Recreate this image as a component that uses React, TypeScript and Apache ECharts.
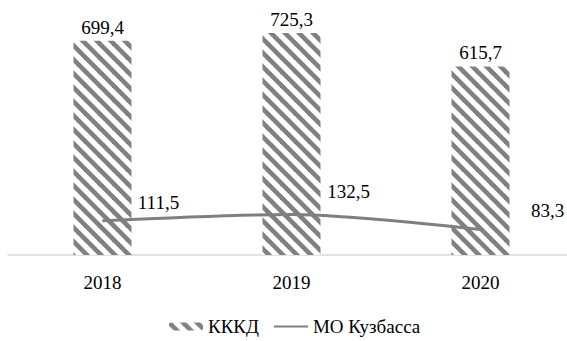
import React, { useEffect, useRef } from "react";
import * as echarts from "echarts";

const categories = ["2018", "2019", "2020"];
const kkkdValues = [699.4, 725.3, 615.7];
const moValues = [111.5, 132.5, 83.3];
const seriesNames = ["КККД", "МО Кузбасса"];

const FONT = "Liberation Serif";

function makeStripe(): any {
  const p = 14;
  const c = document.createElement("canvas");
  c.width = p;
  c.height = p;
  const ctx = c.getContext("2d")!;
  ctx.fillStyle = "#ffffff";
  ctx.fillRect(0, 0, p, p);
  ctx.strokeStyle = "#808080";
  ctx.lineWidth = 4.6;
  for (const k of [-p, 0, p]) {
    ctx.beginPath();
    ctx.moveTo(k - 2, -2);
    ctx.lineTo(k + p + 2, p + 2);
    ctx.stroke();
  }
  return { image: c, repeat: "repeat", imageWidth: p, imageHeight: p };
}

export default function App() {
  const ref = useRef<HTMLDivElement>(null);
  useEffect(() => {
    if (!ref.current) return;
    const chart = echarts.init(ref.current, undefined, { renderer: "svg" });
    const stripe = makeStripe();
    const lineOffsets = [
      [56, -18],
      [57, -23],
      [67, -19],
    ];
    chart.setOption({
      animation: false,
      backgroundColor: "#ffffff",
      textStyle: { fontFamily: FONT },
      grid: { left: 8, right: 0, top: 10, bottom: 86 },
      xAxis: {
        type: "category",
        data: categories,
        axisLine: { lineStyle: { color: "#d9d9d9", width: 1.5 } },
        axisTick: { show: false },
        axisLabel: { color: "#000", fontSize: 19, fontFamily: FONT, margin: 18 },
      },
      yAxis: {
        type: "value",
        min: 0,
        max: 800,
        show: false,
        splitLine: { show: false },
      },
      legend: {
        top: 312,
        left: 164,
        itemWidth: 34,
        itemHeight: 8,
        itemGap: 14,
        textStyle: { color: "#000", fontSize: 19, fontFamily: FONT },
        data: [
          { name: seriesNames[0] },
          { name: seriesNames[1], itemStyle: { opacity: 0 } },
        ],
      },
      series: [
        {
          name: seriesNames[0],
          type: "bar",
          data: kkkdValues,
          barWidth: 58,
          itemStyle: { color: stripe },
          label: {
            show: true,
            position: "top",
            distance: 4,
            color: "#000",
            fontSize: 19,
            fontFamily: FONT,
            formatter: (p: any) => String(p.value).replace(".", ","),
          },
        },
        {
          name: seriesNames[1],
          type: "line",
          data: moValues.map((v, i) => ({
            value: v,
            label: { offset: lineOffsets[i] },
          })),
          smooth: 0.3,
          symbol: "circle",
          symbolSize: 1,
          lineStyle: { color: "#7f7f7f", width: 3 },
          itemStyle: { color: "#7f7f7f" },
          label: {
            show: true,
            position: "inside",
            color: "#000",
            fontSize: 19,
            fontFamily: FONT,
            formatter: (p: any) => String(p.value).replace(".", ","),
          },
        },
      ],
    });
    return () => chart.dispose();
  }, []);
  return (
    <div
      style={{ position: "fixed", left: 0, top: 0, width: 567, height: 341, overflow: "hidden", background: "#fff" }}
    >
      <div ref={ref} style={{ width: 575, height: 341 }} />
    </div>
  );
}
